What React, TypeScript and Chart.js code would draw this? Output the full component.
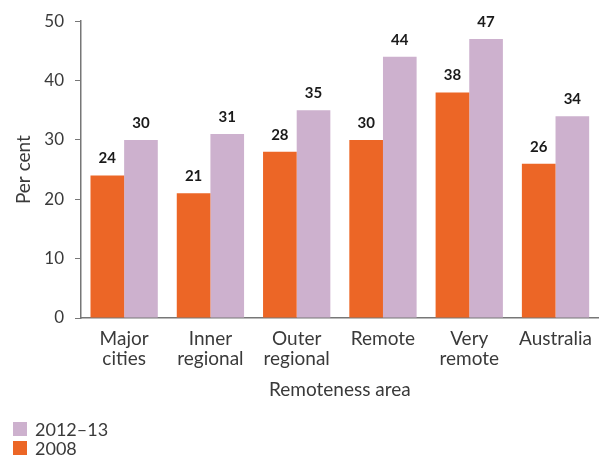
import React, { useEffect, useRef } from "react";
import { Chart, registerables } from "chart.js";

Chart.register(...registerables);

const categories: string[][] = [
  ["Major", "cities"],
  ["Inner", "regional"],
  ["Outer", "regional"],
  ["Remote"],
  ["Very", "remote"],
  ["Australia"],
];
const values2008: number[] = [24, 21, 28, 30, 38, 26];
const values2012: number[] = [30, 31, 35, 44, 47, 34];
const yTicks: number[] = [0, 10, 20, 30, 40, 50];

const ORANGE = "#EC6626";
const PURPLE = "#CDB1CE";
const FONT = "Lato, 'Open Sans', sans-serif";
const TEXT = "#3a3a3a";

const labelPlugin = {
  id: "barLabels",
  afterDatasetsDraw(chart: any) {
    const ctx = chart.ctx;
    ctx.save();
    ctx.font = `bold 15px ${FONT}`;
    ctx.fillStyle = "#1a1a1a";
    ctx.textAlign = "center";
    ctx.textBaseline = "middle";
    chart.data.datasets.forEach((ds: any, i: number) => {
      const meta = chart.getDatasetMeta(i);
      meta.data.forEach((bar: any, j: number) => {
        ctx.fillText(String(ds.data[j]), bar.x, bar.y - 17);
      });
    });
    ctx.restore();
  },
};

export default function App() {
  const ref = useRef<HTMLCanvasElement>(null);
  useEffect(() => {
    if (!ref.current) return;
    const chart = new Chart(ref.current, {
      type: "bar",
      data: {
        labels: categories as any,
        datasets: [
          { label: "2008", data: values2008, backgroundColor: ORANGE },
          { label: "2012–13", data: values2012, backgroundColor: PURPLE },
        ],
      },
      options: {
        animation: false,
        responsive: false,
        maintainAspectRatio: false,
        layout: { padding: { top: 20, left: 0, right: 0, bottom: 0 } },
        datasets: { bar: { categoryPercentage: 0.78, barPercentage: 1 } },
        plugins: {
          legend: { display: false },
          tooltip: { enabled: false },
        },
        scales: {
          x: {
            grid: { display: false, drawTicks: false },
            border: { display: true, color: "#777", width: 1.5 },
            ticks: {
              color: TEXT,
              font: { family: FONT, size: 19, lineHeight: 1.1 },
              padding: 10,
              maxRotation: 0,
              autoSkip: false,
            },
            title: {
              display: true,
              text: "Remoteness area",
              color: TEXT,
              font: { family: FONT, size: 19, lineHeight: 1.2 },
              padding: { top: 0, bottom: 9 },
            },
            afterFit(scale: any) {
              scale.height = 92;
            },
          },
          y: {
            min: 0,
            max: 50,
            afterBuildTicks(scale: any) {
              scale.ticks = yTicks.map((v) => ({ value: v }));
            },
            grid: { drawOnChartArea: false, drawTicks: true, tickLength: 6, color: "#777" },
            border: { display: true, color: "#777", width: 1.5 },
            ticks: {
              color: TEXT,
              font: { family: FONT, size: 17 },
              padding: 11,
            },
            title: {
              display: true,
              text: "Per cent",
              color: TEXT,
              font: { family: FONT, size: 19, lineHeight: 1.2 },
              padding: { top: 12, bottom: 0 },
            },
            afterFit(scale: any) {
              scale.width = 81;
            },
          },
        },
      },
      plugins: [labelPlugin],
    });
    return () => chart.destroy();
  }, []);

  const legendItems = [
    { label: "2012–13", color: PURPLE },
    { label: "2008", color: ORANGE },
  ];

  return (
    <div style={{ position: "fixed", left: 0, top: 0, width: 602, height: 457, background: "#fff" }}>
      <canvas ref={ref} width={602} height={410} style={{ display: "block" }} />
      <div style={{ position: "absolute", left: 13, top: 419, fontFamily: FONT, fontSize: 18, color: TEXT }}>
        {legendItems.map((it) => (
          <div key={it.label} style={{ display: "flex", alignItems: "center", height: 19 }}>
            <span style={{ display: "inline-block", width: 14, height: 14, background: it.color, marginRight: 8 }} />
            <span>{it.label}</span>
          </div>
        ))}
      </div>
    </div>
  );
}
